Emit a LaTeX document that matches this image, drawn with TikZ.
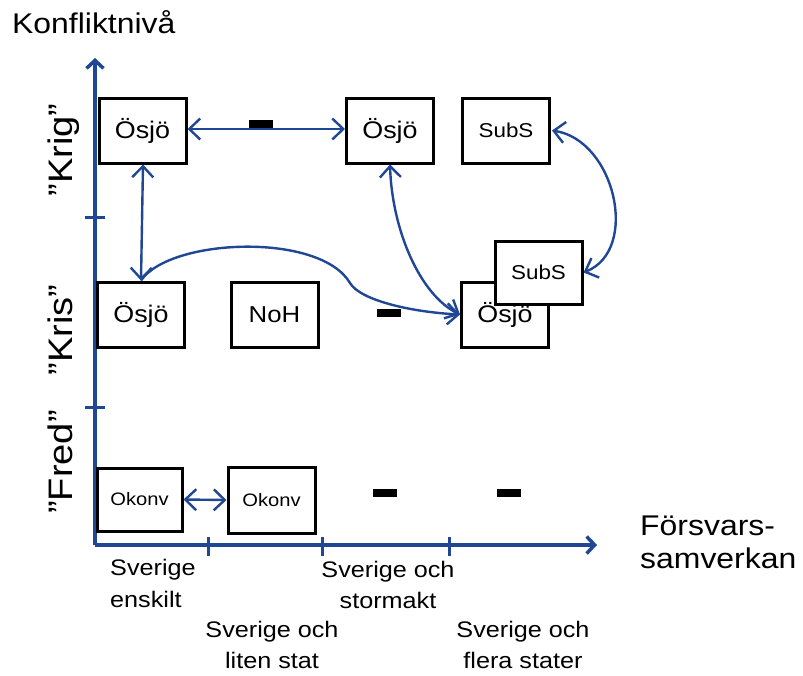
\documentclass[tikz,border=0pt]{standalone}
\usepackage{fontspec}
\setmainfont{Liberation Sans}[FakeStretch=1.12]
\usetikzlibrary{arrows.meta}
\definecolor{axisblue}{RGB}{32,70,150}
\newcommand{\fs}[1]{\fontsize{#1}{#1}\selectfont}
\newcommand{\twoline}[4]{{\fontsize{#1}{#2}\selectfont\begin{tabular}[t]{@{}#3@{}}#4\end{tabular}}}
\tikzset{
  box/.style={draw=black, line width=3pt, fill=white, minimum width=87pt, minimum height=65pt, inner sep=0pt},
  conn/.style={draw=axisblue, line width=2.4pt},
  tipA/.tip={Straight Barb[length=11pt,width=21pt]},
  ax/.style={draw=axisblue, line width=3.5pt},
  axtip/.tip={Straight Barb[length=8pt,width=17pt]},
  tick/.style={draw=axisblue, line width=3pt},
  bar/.style={fill=black, minimum width=24pt, minimum height=8pt, inner sep=0pt},
  lbl/.style={inner sep=0pt, text=black}
}
\begin{document}
\begin{tikzpicture}[x=1pt,y=-1pt]
\useasboundingbox (0,0) rectangle (803,675);
% axes
\coordinate (O) at (95,545);
\coordinate (ytop) at (95,58);
\coordinate (xend) at (597,545);
\draw[ax, -axtip] (O) -- (ytop);
\draw[ax, -axtip] (O) -- (xend);
% ticks
\foreach \yy in {217,407} \draw[tick] (85,\yy) -- (105,\yy);
\foreach \xx in {208,322,449} \draw[tick] (\xx,537) -- (\xx,556);
% axis titles
\node[lbl, anchor=base west] (ytitle) at (12,33) {\fs{28.5}Konfliktnivå};
\node[lbl, anchor=base west] (xtitle) at (640,535) {\twoline{28.5}{33}{l}{Försvars-\\samverkan}};
% y labels
\node[lbl, rotate=90, anchor=base] (krig) at (72,150) {\fs{34}”Krig”};
\node[lbl, rotate=90, anchor=base] (kris) at (72,330) {\fs{34}”Kris”};
\node[lbl, rotate=90, anchor=base] (fred) at (72,462) {\fs{34}”Fred”};
% x labels
\node[lbl, anchor=base west] (x1) at (110,575) {\twoline{22.5}{32}{l}{Sverige\\enskilt}};
\node[lbl, anchor=base] (x2) at (272,637) {\twoline{22.5}{31}{c}{Sverige och\\liten stat}};
\node[lbl, anchor=base] (x3) at (388,577) {\twoline{22.5}{31}{c}{Sverige och\\stormakt}};
\node[lbl, anchor=base] (x4) at (523,637) {\twoline{22.5}{31}{c}{Sverige och\\flera stater}};
% boxes
\node[box] (krigA) at (142.5,130.5) {\fs{24}Ösjö};
\node[box] (krigB) at (390,130.5) {\fs{24}Ösjö};
\node[box] (subsT) at (506,130.5) {\fs{20}SubS};
\node[box] (osjoR) at (505,314.5) {\fs{24}Ösjö};
\node[box, minimum height=63pt] (subsM) at (538.5,272.5) {\fs{20}SubS};
\node[box] (krisA) at (141,314.5) {\fs{24}Ösjö};
\node[box] (noh) at (274.5,314.5) {\fs{23}NoH};
\node[box, minimum width=85pt, minimum height=63pt] (okA) at (139.5,499.5) {\fs{18}Okonv};
\node[box, minimum height=66pt] (okB) at (271.5,500) {\fs{18}Okonv};
% bars
\node[bar] (bar1) at (261,123.5) {};
\node[bar] (bar2) at (388.5,313) {};
\node[bar] (bar3) at (384.5,493) {};
\node[bar] (bar4) at (509,493) {};
% connectors
\draw[conn, tipA-tipA] ([yshift=1.5pt]krigA.east) -- ([yshift=1.5pt]krigB.west);
\draw[conn, tipA-tipA] ([xshift=0.5pt]krigA.south) -- (krisA.north);
\draw[conn, -tipA] (krisA.north) .. controls (170,238) and (320,232) .. (350,283)
   .. controls (360,300) and (410,312) .. (osjoR.west);
\draw[conn, tipA-tipA] (krigB.south) .. controls (392,230) and (420,295) .. (osjoR.west);
\draw[conn, tipA-tipA] ([xshift=1pt]subsT.east) .. controls (615,140) and (640,250) .. (subsM.east);
\draw[conn, tipA-tipA] (okA.east) -- (okB.west);
\end{tikzpicture}
\end{document}
